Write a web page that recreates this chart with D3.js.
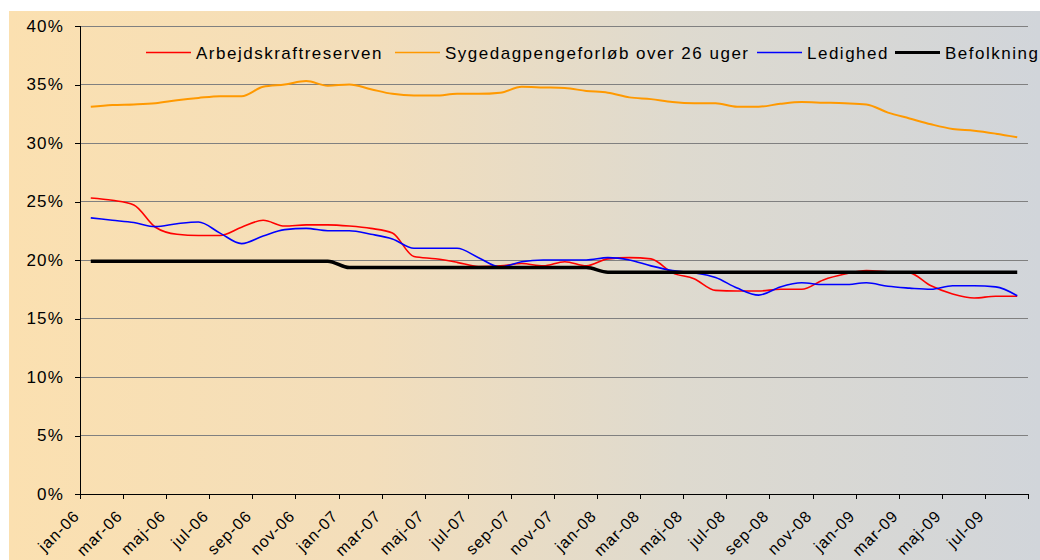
<!DOCTYPE html>
<html><head><meta charset="utf-8">
<script src="https://cdn.jsdelivr.net/npm/d3@7"></script>
<style>
html,body{margin:0;padding:0;background:#fff;}
svg{display:block;}
text{font-family:"Liberation Sans",Arial,sans-serif;}
</style></head>
<body>
<svg id="chart" width="1040" height="560"></svg>
<script>
const months = ["jan-06","feb-06","mar-06","apr-06","maj-06","jun-06","jul-06","aug-06","sep-06","okt-06","nov-06","dec-06",
"jan-07","feb-07","mar-07","apr-07","maj-07","jun-07","jul-07","aug-07","sep-07","okt-07","nov-07","dec-07",
"jan-08","feb-08","mar-08","apr-08","maj-08","jun-08","jul-08","aug-08","sep-08","okt-08","nov-08","dec-08",
"jan-09","feb-09","mar-09","apr-09","maj-09","jun-09","jul-09","aug-09"];
const arbejdskraftreserven = [25.3,25.1,24.7,22.8,22.2,22.1,22.1,22.8,23.4,22.9,23.0,23.0,22.9,22.7,22.3,20.3,20.1,19.8,19.45,19.5,19.7,19.5,19.85,19.5,20.1,20.2,20.1,18.9,18.4,17.4,17.35,17.35,17.5,17.5,18.3,18.8,19.1,19.0,18.9,17.8,17.1,16.75,16.9,16.9];
const sygedagpenge = [33.1,33.25,33.3,33.4,33.65,33.85,34.0,34.0,34.8,35.0,35.3,34.9,35.0,34.6,34.2,34.05,34.05,34.2,34.2,34.3,34.8,34.75,34.7,34.45,34.3,33.9,33.75,33.5,33.4,33.4,33.1,33.1,33.35,33.5,33.45,33.4,33.3,32.6,32.1,31.6,31.2,31.05,30.8,30.5];
const ledighed = [23.6,23.4,23.2,22.85,23.1,23.25,22.3,21.4,22.05,22.6,22.7,22.5,22.5,22.2,21.8,21.0,21.0,21.0,20.2,19.4,19.85,20.0,20.0,20.0,20.2,20.0,19.5,19.1,18.9,18.5,17.6,17.0,17.7,18.05,17.9,17.9,18.05,17.75,17.6,17.5,17.8,17.8,17.7,16.95];
const befolkning = [19.9,19.9,19.9,19.9,19.9,19.9,19.9,19.9,19.9,19.9,19.9,19.9,19.35,19.35,19.35,19.35,19.35,19.35,19.35,19.35,19.35,19.35,19.35,19.35,18.95,18.95,18.95,18.95,18.95,18.95,18.95,18.95,18.95,18.95,18.95,18.95,18.95,18.95,18.95,18.95,18.95,18.95,18.95,18.95];
const seriesNames = ["Arbejdskraftreserven","Sygedagpengeforløb over 26 uger","Ledighed","Befolkning"];
const seriesColors = ["#FF0000","#FF9900","#0000FF","#000000"];
const seriesWidths = [1.6,2,1.6,3.5];
const yTicks = [0,5,10,15,20,25,30,35,40];

const svg = d3.select("#chart");
const W = 1040, H = 560;
const L = 80, R = 1028, T = 26, B = 494;

const defs = svg.append("defs");
const grad = defs.append("linearGradient").attr("id","bg").attr("x1","0").attr("x2","1").attr("y1","0").attr("y2","0");
grad.append("stop").attr("offset","0").attr("stop-color","#FBE0B0");
grad.append("stop").attr("offset","0.35").attr("stop-color","#F3DEBB");
grad.append("stop").attr("offset","0.65").attr("stop-color","#DEDACF");
grad.append("stop").attr("offset","1").attr("stop-color","#D1D5DA");
svg.append("rect").attr("x",9).attr("y",11).attr("width",W-9).attr("height",H-11).attr("fill","url(#bg)");

const n = months.length;
const x = d3.scaleLinear().domain([0,n]).range([L,R]);
const y = d3.scaleLinear().domain([0,40]).range([B,T]);

// gridlines
svg.append("g").selectAll("line").data(yTicks.filter(d=>d>0)).join("line")
  .attr("x1",L).attr("x2",R).attr("y1",d=>y(d)).attr("y2",d=>y(d))
  .attr("stroke","#808080").attr("stroke-width",1).attr("shape-rendering","crispEdges");

// y axis
const yAxis = svg.append("g").attr("transform",`translate(${L},0)`)
  .call(d3.axisLeft(y).tickValues(yTicks).tickFormat(d=>d+"%").tickSize(5).tickPadding(11));
yAxis.select(".domain").attr("stroke","#000").attr("shape-rendering","crispEdges");
yAxis.selectAll(".tick line").attr("stroke","#000").attr("shape-rendering","crispEdges");
yAxis.selectAll("text").attr("font-size",17).attr("letter-spacing","1.2px").attr("fill","#000")
  .attr("font-family","'Liberation Sans',Arial,sans-serif");

// x axis
const xTickVals = d3.range(0,n+1,2);
const xAxis = svg.append("g").attr("transform",`translate(0,${B})`)
  .call(d3.axisBottom(x).tickValues(xTickVals).tickFormat(d=>d<n?months[d]:"").tickSize(5).tickSizeOuter(0));
xAxis.select(".domain").attr("stroke","#000").attr("shape-rendering","crispEdges");
xAxis.selectAll(".tick line").attr("stroke","#000").attr("shape-rendering","crispEdges");
xAxis.selectAll("text").attr("font-size",16).attr("letter-spacing","1px").attr("fill","#000")
  .attr("font-family","'Liberation Sans',Arial,sans-serif")
  .attr("text-anchor","end").attr("x",0).attr("y",0).attr("dy","0.35em")
  .attr("transform","translate(-4,19) rotate(-45)");

// lines
const line = d3.line().x((d,i)=>x(i+0.5)).y(d=>y(d)).curve(d3.curveMonotoneX);
const allSeries = [arbejdskraftreserven,sygedagpenge,ledighed,befolkning];
svg.append("g").selectAll("path").data(allSeries).join("path")
  .attr("d",d=>line(d)).attr("fill","none")
  .attr("stroke",(d,i)=>seriesColors[i]).attr("stroke-width",(d,i)=>seriesWidths[i])
  .attr("stroke-linejoin","round");

// legend
const legX = [146,395,757,895];
const leg = svg.append("g");
seriesNames.forEach((nm,i)=>{
  leg.append("line").attr("x1",legX[i]).attr("x2",legX[i]+45).attr("y1",52.5).attr("y2",52.5)
    .attr("stroke",seriesColors[i]).attr("stroke-width",i===3?3:1.6);
  leg.append("text").attr("x",legX[i]+50).attr("y",58.5).text(nm)
    .attr("font-size",17).attr("letter-spacing","1.5px").attr("fill","#000");
});
</script>
</body></html>
